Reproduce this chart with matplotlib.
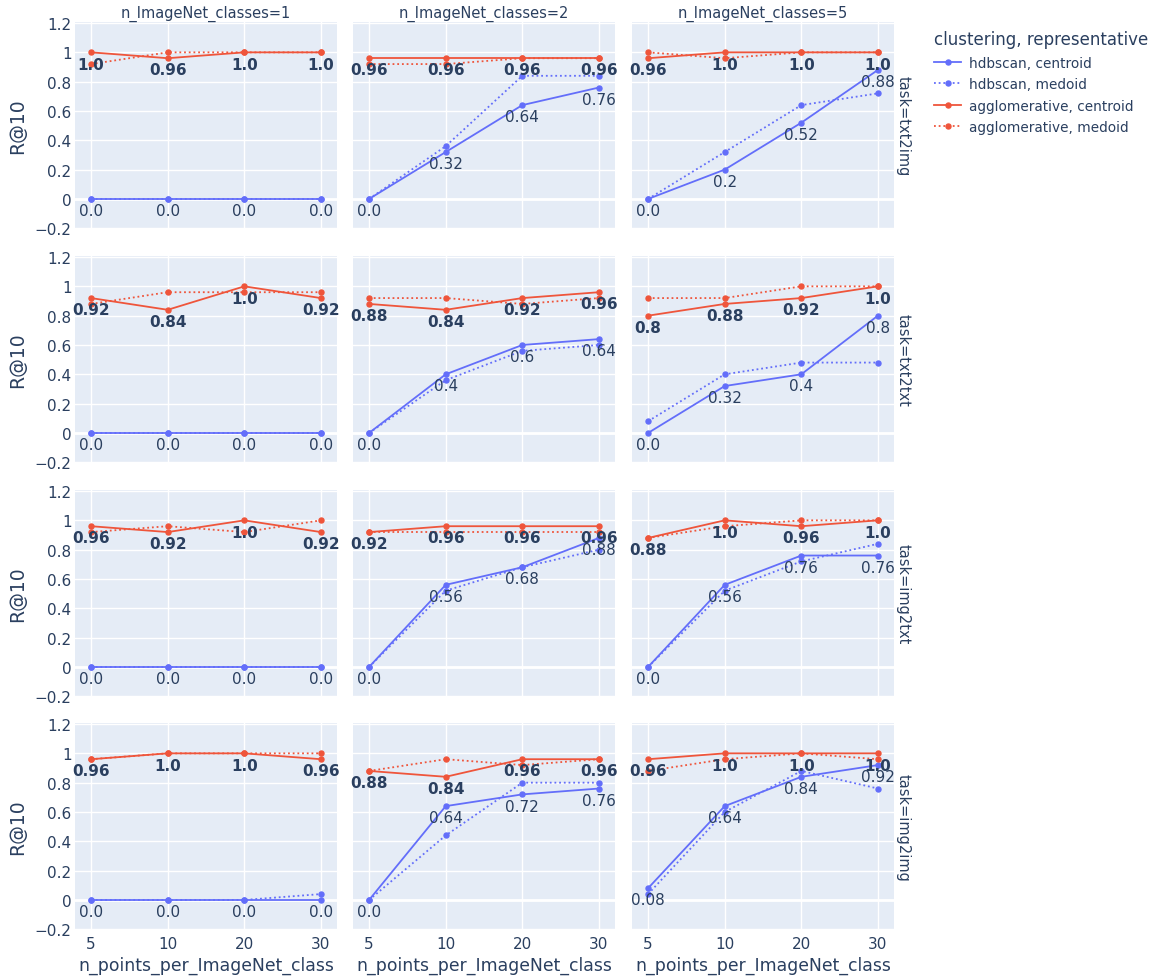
import matplotlib
matplotlib.use("Agg")
import matplotlib.pyplot as plt
from matplotlib.lines import Line2D

plt.rcParams['font.family'] = ['DejaVu Sans']

x_labels = ["5", "10", "20", "30"]
tasks = ["txt2img", "txt2txt", "img2txt", "img2img"]
n_classes = [1, 2, 5]

# values per task (rows) and n_ImageNet_classes (cols), over n_points 5/10/20/30
hdbscan_centroid = [
    [[0, 0, 0, 0], [0, 0.32, 0.64, 0.76], [0, 0.2, 0.52, 0.88]],
    [[0, 0, 0, 0], [0, 0.4, 0.6, 0.64], [0, 0.32, 0.4, 0.8]],
    [[0, 0, 0, 0], [0, 0.56, 0.68, 0.88], [0, 0.56, 0.76, 0.76]],
    [[0, 0, 0, 0], [0, 0.64, 0.72, 0.76], [0.08, 0.64, 0.84, 0.92]],
]
hdbscan_medoid = [
    [[0, 0, 0, 0], [0, 0.36, 0.84, 0.84], [0, 0.32, 0.64, 0.72]],
    [[0, 0, 0, 0], [0, 0.36, 0.56, 0.6], [0.08, 0.4, 0.48, 0.48]],
    [[0, 0, 0, 0], [0, 0.52, 0.68, 0.8], [0, 0.52, 0.72, 0.84]],
    [[0, 0, 0, 0.04], [0, 0.44, 0.8, 0.8], [0.04, 0.6, 0.88, 0.76]],
]
agglo_centroid = [
    [[1.0, 0.96, 1.0, 1.0], [0.96, 0.96, 0.96, 0.96], [0.96, 1.0, 1.0, 1.0]],
    [[0.92, 0.84, 1.0, 0.92], [0.88, 0.84, 0.92, 0.96], [0.8, 0.88, 0.92, 1.0]],
    [[0.96, 0.92, 1.0, 0.92], [0.92, 0.96, 0.96, 0.96], [0.88, 1.0, 0.96, 1.0]],
    [[0.96, 1.0, 1.0, 0.96], [0.88, 0.84, 0.96, 0.96], [0.96, 1.0, 1.0, 1.0]],
]
agglo_medoid = [
    [[0.92, 1.0, 1.0, 1.0], [0.92, 0.92, 0.96, 0.96], [1.0, 0.96, 1.0, 1.0]],
    [[0.88, 0.96, 0.96, 0.96], [0.92, 0.92, 0.88, 0.92], [0.92, 0.92, 1.0, 1.0]],
    [[0.92, 0.96, 0.92, 1.0], [0.92, 0.92, 0.92, 0.92], [0.88, 0.96, 1.0, 1.0]],
    [[0.96, 1.0, 1.0, 1.0], [0.88, 0.96, 0.92, 0.96], [0.88, 0.96, 1.0, 0.96]],
]

BLUE = "#636efa"
RED = "#EF553B"
BG = "#E5ECF6"
TXT = "#2a3f5f"

W, H = 1158, 979
fig = plt.figure(figsize=(W / 100, H / 100), dpi=100)

col_left = [75, 353, 632]
row_top = [23, 257, 491, 724]
pw, ph = 262, 207
xs = list(range(len(x_labels)))
yticks = [-0.2, 0, 0.2, 0.4, 0.6, 0.8, 1.0, 1.2]
ytick_labels = ["\u22120.2", "0", "0.2", "0.4", "0.6", "0.8", "1", "1.2"]

series = [
    ("hdbscan, centroid", hdbscan_centroid, BLUE, "-", "normal"),
    ("hdbscan, medoid", hdbscan_medoid, BLUE, (0, (1, 1.6)), None),
    ("agglomerative, centroid", agglo_centroid, RED, "-", "bold"),
    ("agglomerative, medoid", agglo_medoid, RED, (0, (1, 1.6)), None),
]

for r, task in enumerate(tasks):
    for c, nc in enumerate(n_classes):
        ax = fig.add_axes([col_left[c] / W, 1 - (row_top[r] + ph) / H, pw / W, ph / H])
        ax.set_facecolor(BG)
        for s in ax.spines.values():
            s.set_visible(False)
        ax.set_xlim(-0.21, 3.21)
        ax.set_ylim(-0.205, 1.207)
        ax.set_xticks(xs)
        ax.set_yticks(yticks)
        ax.grid(True, color="white", linewidth=1.0)
        ax.axhline(0, color="white", linewidth=2.0, zorder=0.6)
        ax.set_axisbelow(True)
        ax.tick_params(length=0, colors=TXT, labelsize=11, pad=2.5)
        if c == 0:
            ax.set_yticklabels(ytick_labels)
        else:
            ax.set_yticklabels([])
        if r == len(tasks) - 1:
            ax.set_xticklabels(x_labels)
            ax.tick_params(axis="x", pad=4)
            ax.set_xlabel("n_points_per_ImageNet_class", fontsize=12.4, color=TXT, labelpad=4)
        else:
            ax.set_xticklabels([])
        for name, data, color, ls, weight in series:
            ys = data[r][c]
            ax.plot(xs, ys, color=color, linestyle=ls, linewidth=1.3,
                    marker="o", markersize=3.6, label=name, zorder=2)
            if weight is not None:
                for xi, yi in zip(xs, ys):
                    ax.annotate(str(round(float(yi), 2)), (xi, yi), xytext=(0, -3),
                                textcoords="offset points", ha="center", va="top",
                                fontsize=11, color=TXT, fontweight=weight, zorder=5)
        if r == 0:
            ax.set_title("n_ImageNet_classes=%d" % nc, fontsize=10.5, color=TXT, pad=4)
        if c == 2:
            ax.text(1.035, 0.5, "task=" + task, transform=ax.transAxes, rotation=270,
                    ha="center", va="center", fontsize=10.5, color=TXT)
        if c == 0:
            fig.text(18 / W, 1 - (row_top[r] + ph / 2) / H, "R@10", rotation=90,
                     ha="center", va="center", fontsize=13.5, color=TXT)

handles = [Line2D([0], [0], color=col, linestyle=ls, linewidth=1.3, marker="o", markersize=3.6)
           for _, _, col, ls, _ in series]
leg = fig.legend(handles, [s[0] for s in series], loc="upper left",
                 bbox_to_anchor=(922 / W, 1 - 19 / H), frameon=False,
                 title="clustering, representative", fontsize=9.8,
                 title_fontsize=12, handlelength=2.0, handletextpad=0.55,
                 labelspacing=0.55, alignment="left")
for t in leg.get_texts():
    t.set_color(TXT)
leg.get_title().set_color(TXT)

fig.savefig("out.png", dpi=100, facecolor="white")
